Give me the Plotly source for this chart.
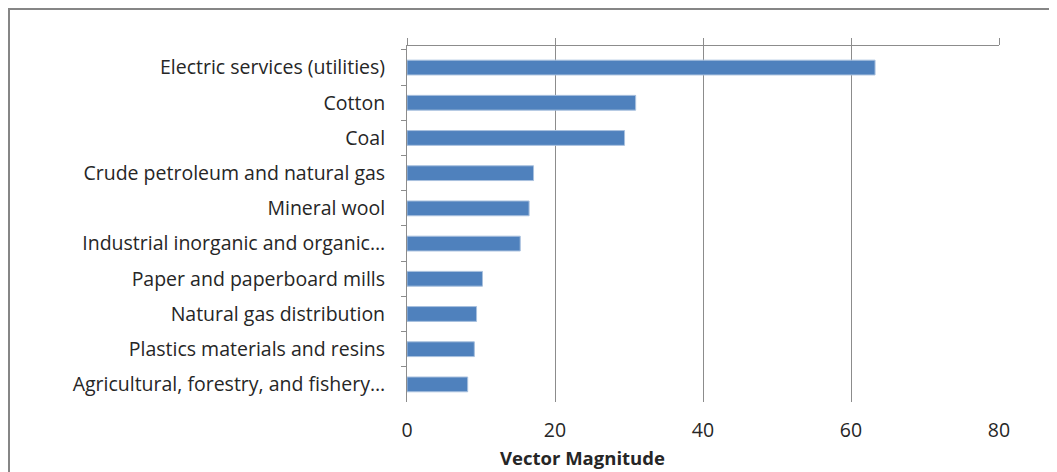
import plotly.graph_objects as go

categories = [
    "Electric services (utilities)",
    "Cotton",
    "Coal",
    "Crude petroleum and natural gas",
    "Mineral wool",
    "Industrial inorganic and organic…",
    "Paper and paperboard mills",
    "Natural gas distribution",
    "Plastics materials and resins",
    "Agricultural, forestry, and fishery…",
]
values = [63.25, 30.9, 29.4, 17.1, 16.5, 15.3, 10.2, 9.4, 9.1, 8.2]
x_ticks = [0, 20, 40, 60, 80]
x_title = "Vector Magnitude"

# page has an 8px body margin; figure sized to fit the window
OFF = 8
W, H = 1057 - OFF, 472 - OFF
L, R, T, B = 407 - OFF, 1057 - 999, 46 - OFF, 472 - 402
pw, ph = W - L - R, H - T - B

font_family = "'Open Sans', sans-serif"
txt_color = "#262626"
fs = 19.5

fig = go.Figure()
fig.add_trace(go.Bar(
    x=values, y=categories, orientation="h",
    marker=dict(color="#4F81BD", line=dict(color="#A8C0DE", width=1)),
    width=0.42, showlegend=False, hoverinfo="x+y",
))
# invisible trace for top axis
fig.add_trace(go.Scatter(x=[0], y=[categories[0]], xaxis="x2", mode="markers",
                         marker=dict(opacity=0), showlegend=False, hoverinfo="skip"))

fig.update_layout(
    width=W, height=H,
    margin=dict(l=L, r=R, t=T, b=B, pad=0),
    paper_bgcolor="white", plot_bgcolor="white",
    font=dict(family=font_family, size=fs, color=txt_color),
    xaxis=dict(
        range=[0, 80], tickvals=x_ticks, ticktext=[str(v) for v in x_ticks],
        showgrid=True, gridcolor="#8c8c8c", gridwidth=1,
        showline=False, zeroline=False, ticks="", ticklabelstandoff=14,
        tickfont=dict(size=fs),
    ),
    xaxis2=dict(
        range=[0, 80], overlaying="x", side="top", tickvals=x_ticks,
        showticklabels=False, showgrid=False, zeroline=False,
        showline=True, linecolor="#8c8c8c", linewidth=1,
        ticks="outside", ticklen=7, tickcolor="#8c8c8c",
    ),
    yaxis=dict(
        categoryorder="array", categoryarray=categories, autorange="reversed",
        showline=True, linecolor="#8c8c8c", linewidth=1,
        ticks="outside", ticklen=5, tickcolor="#8c8c8c", tickson="boundaries",
        showgrid=False, zeroline=False, ticklabelstandoff=17,
        tickfont=dict(size=fs),
    ),
    bargap=0.58,
)

fig.add_annotation(
    text="<b>" + x_title + "</b>", xref="paper", yref="paper",
    x=(582 - OFF - L) / pw, y=-(457 - OFF - (T + ph)) / ph,
    showarrow=False, font=dict(size=18.5, family=font_family, color=txt_color),
    xanchor="center", yanchor="middle",
)

# outer chart border (left and top visible)
fig.add_shape(type="rect", xref="paper", yref="paper",
              x0=(1 - L) / pw, x1=2.0, y0=-1.0, y1=(T + ph - 1) / ph,
              line=dict(color="#868686", width=2), layer="below")

fig.write_html("out.html")
